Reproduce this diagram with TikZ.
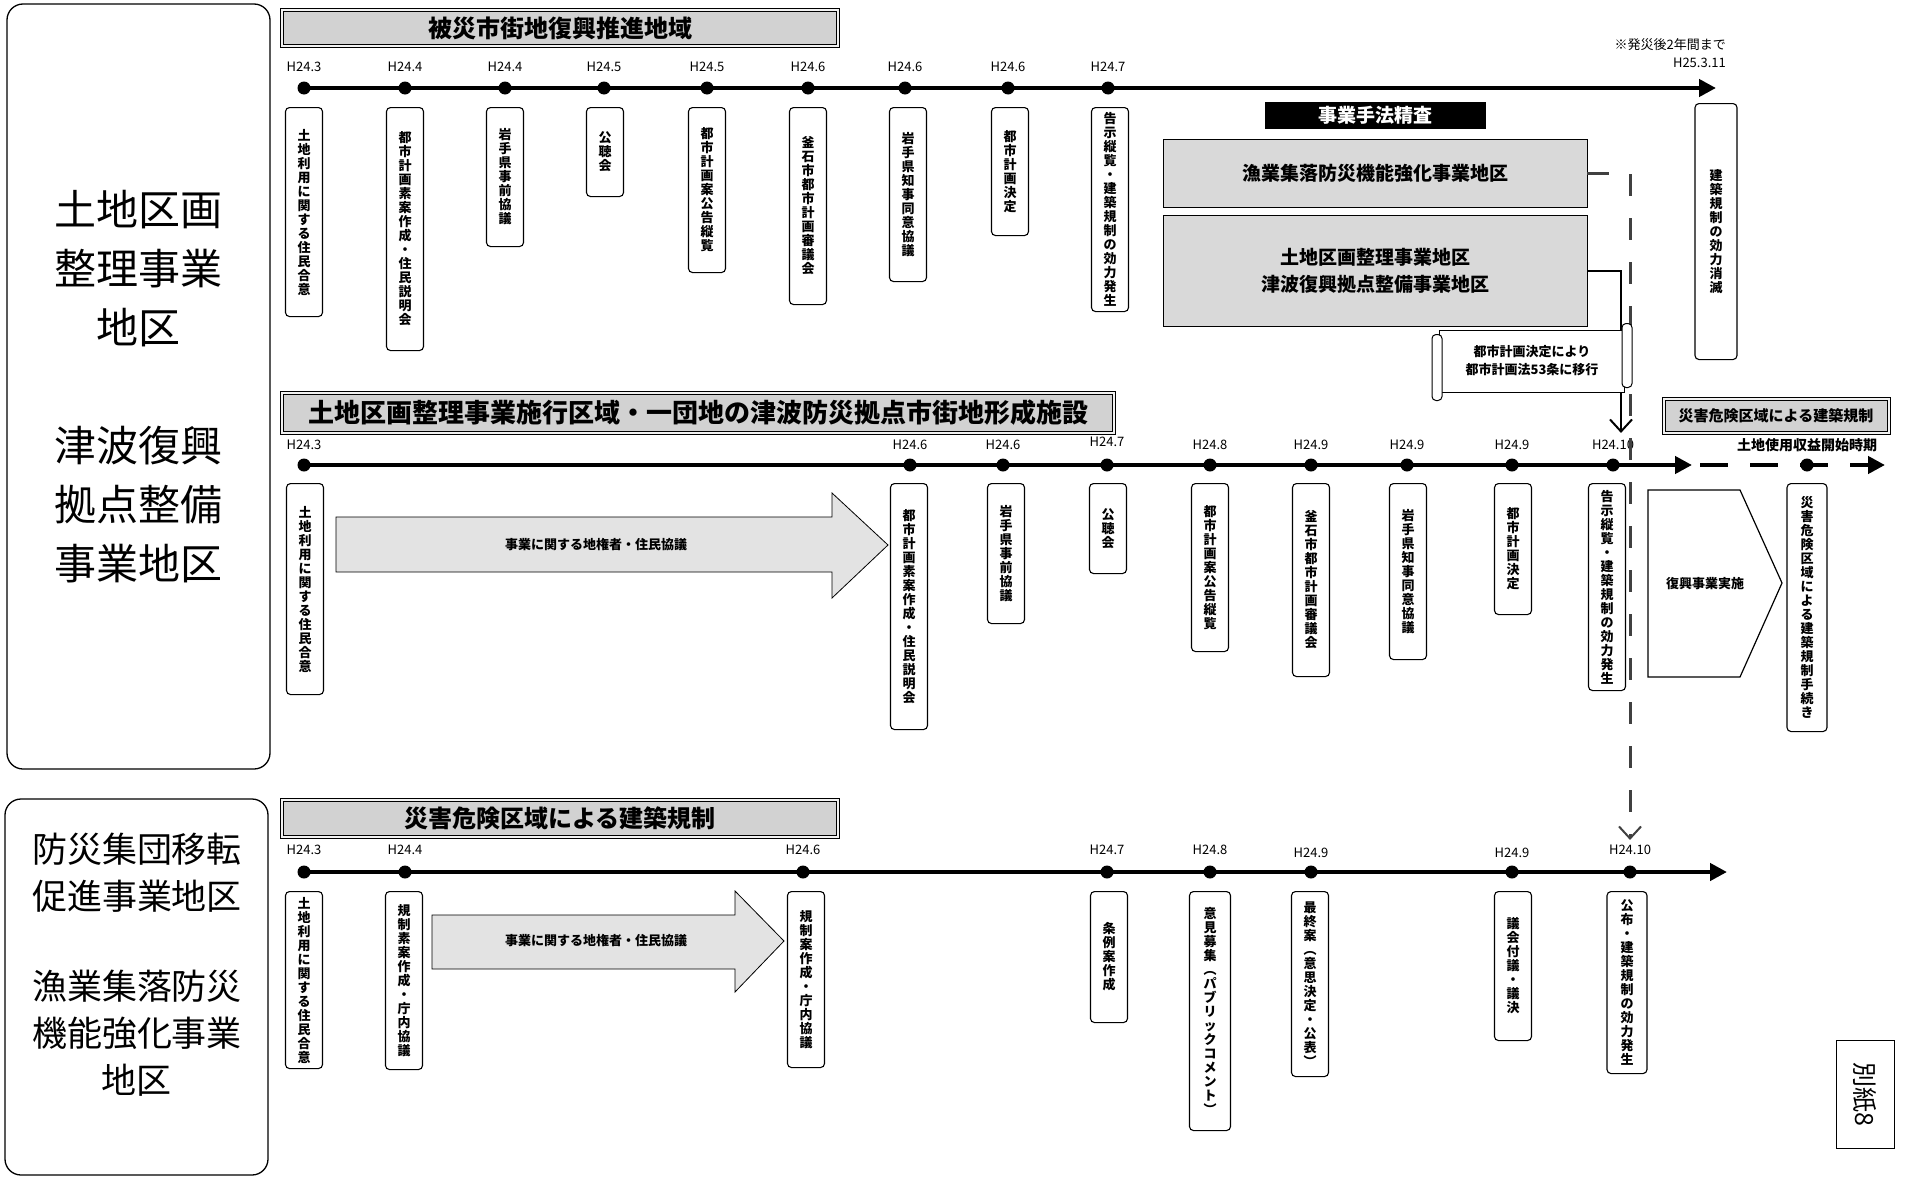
\documentclass[tikz,border=0pt]{standalone}
\usepackage{fontspec}
\setmainfont{Noto Sans CJK JP}
\usetikzlibrary{arrows.meta}

\makeatletter
% stack the characters of a label one under the other
\newcommand\tatebox[1]{\vbox{\baselineskip=14pt\lineskiplimit=-20pt
  \@tfor\tate@c:=#1\do{\hbox to 15pt{\hss\tate@c\hss}}}}
\makeatother

\begin{document}
\begin{tikzpicture}[x=1pt,y=-1pt,
    dot/.style={circle,fill,inner sep=0pt,minimum size=13pt},
    date/.style={font=\fontsize{13}{15}\selectfont,inner sep=1pt},
    tbox/.style={draw,rounded corners=4pt,line width=1.1pt,minimum width=37pt,anchor=north,
      inner sep=0pt,font=\bfseries\fontsize{13}{14}\selectfont},
    banner/.style={draw,line width=1pt,double=gray!10,double distance=2pt,fill=gray!35,inner sep=0pt},
    timeline/.style={line width=4.5pt,-{Triangle[length=17pt,width=17pt]}},
    graybox/.style={draw,line width=0.8pt,fill=gray!30,inner sep=0pt,font=\bfseries\fontsize{19}{27}\selectfont},
    bigarrow/.style={draw,line width=0.8pt,fill=gray!22},
    barb/.style={-{Straight Barb[length=12pt,width=22pt,line width=2pt]}}]
    \useasboundingbox (0,0) rectangle (1907,1178);
    \fill[white] (0,0) rectangle (1907,1178);

    % left panels
    \node[draw,line width=1.3pt,rounded corners=16pt,minimum width=263pt,minimum height=765pt] (AREA1) at (138.5,386.5) {};
    \node[align=center,font=\fontsize{42}{59}\selectfont] (AREA1T) at (AREA1.center)
        {土地区画\\整理事業\\地区\\[59pt]津波復興\\拠点整備\\事業地区};
    \node[draw,line width=1.3pt,rounded corners=16pt,minimum width=263pt,minimum height=376pt] (AREA2) at (136.5,987) {};
    \node[align=center,font=\fontsize{35}{47}\selectfont] (AREA2T) at (137,965)
        {防災集団移転\\促進事業地区\\[43pt]漁業集落防災\\機能強化事業\\地区};

    % upper timeline
    \node[banner,minimum width=556pt,minimum height=36pt,font=\bfseries\fontsize{24}{24}\selectfont] (BAN1) at (560,28) {被災市街地復興推進地域};
    \coordinate (TS) at (304,88);
    \coordinate (TE) at (1716,88);
    \draw[timeline] (TS) -- (TE);
    \node[dot] (T1) at (304,88) {};
    \node[dot] (T2) at (405,88) {};
    \node[dot] (T3) at (505,88) {};
    \node[dot] (T4) at (604,88) {};
    \node[dot] (T5) at (707,88) {};
    \node[dot] (T6) at (808,88) {};
    \node[dot] (T7) at (905,88) {};
    \node[dot] (T8) at (1008,88) {};
    \node[dot] (T9) at (1108,88) {};
    \node[date] (TL1) at (304,67) {H24.3};
    \node[date] (TL2) at (405,67) {H24.4};
    \node[date] (TL3) at (505,67) {H24.4};
    \node[date] (TL4) at (604,67) {H24.5};
    \node[date] (TL5) at (707,67) {H24.5};
    \node[date] (TL6) at (808,67) {H24.6};
    \node[date] (TL7) at (905,67) {H24.6};
    \node[date] (TL8) at (1008,67) {H24.6};
    \node[date] (TL9) at (1108,67) {H24.7};
    \node[date,anchor=east] (NOTE) at (1727,45) {※発災後2年間まで};
    \node[date,anchor=east] (TL10) at (1727,63) {H25.3.11};
    \node[tbox,minimum height=209pt] (TB1) at (304,107) {\tatebox{土地利用に関する住民合意}};
    \node[tbox,minimum height=243pt] (TB2) at (405,107) {\tatebox{都市計画素案作成・住民説明会}};
    \node[tbox,minimum height=139pt] (TB3) at (505,107) {\tatebox{岩手県事前協議}};
    \node[tbox,minimum height=89pt] (TB4) at (605,107) {\tatebox{公聴会}};
    \node[tbox,minimum height=165pt] (TB5) at (707,107) {\tatebox{都市計画案公告縦覧}};
    \node[tbox,minimum height=197pt] (TB6) at (808,107) {\tatebox{釜石市都市計画審議会}};
    \node[tbox,minimum height=174pt] (TB7) at (908,107) {\tatebox{岩手県知事同意協議}};
    \node[tbox,minimum height=128pt] (TB8) at (1010,107) {\tatebox{都市計画決定}};
    \node[tbox,minimum height=204pt] (TB9) at (1110,107) {\tatebox{告示縦覧・建築規制の効力発生}};
    \node[tbox,minimum height=256pt,minimum width=42pt] (TB10) at (1716,103) {\tatebox{建築規制の効力消滅}};
    \node[fill=black,text=white,minimum width=221pt,minimum height=27pt,inner sep=0pt,
        font=\bfseries\fontsize{19}{19}\selectfont] (CHECK) at (1375,115) {事業手法精査};
    \node[graybox,minimum width=424pt,minimum height=68pt] (FISH) at (1375,173) {漁業集落防災機能強化事業地区};
    \node[graybox,minimum width=424pt,minimum height=111pt,align=center] (LAND) at (1375,271)
        {土地区画整理事業地区\\津波復興拠点整備事業地区};

    % middle timeline
    \node[banner,minimum width=832pt,minimum height=40pt,font=\bfseries\fontsize{26}{26}\selectfont] (BAN2) at (698,413)
        {土地区画整理事業施行区域・一団地の津波防災拠点市街地形成施設};
    \node[banner,minimum width=225pt,minimum height=34pt,font=\bfseries\fontsize{15}{15}\selectfont] (BAN3) at (1776,416)
        {災害危険区域による建築規制};
    \coordinate (MS) at (304,465);
    \coordinate (ME) at (1692,465);
    \coordinate (MD) at (1700,465);
    \coordinate (MF) at (1885,465);
    \draw[timeline] (MS) -- (ME);
    \draw[timeline,dash pattern=on 28pt off 22pt] (MD) -- (MF);
    \node[dot] (M1) at (304,465) {};
    \node[dot] (M2) at (910,465) {};
    \node[dot] (M3) at (1003,465) {};
    \node[dot] (M4) at (1107,465) {};
    \node[dot] (M5) at (1210,465) {};
    \node[dot] (M6) at (1311,465) {};
    \node[dot] (M7) at (1407,465) {};
    \node[dot] (M8) at (1512,465) {};
    \node[dot] (M9) at (1613,465) {};
    \node[dot] (M10) at (1807,465) {};
    \node[date] (ML1) at (304,445) {H24.3};
    \node[date] (ML2) at (910,445) {H24.6};
    \node[date] (ML3) at (1003,445) {H24.6};
    \node[date] (ML4) at (1107,442) {H24.7};
    \node[date] (ML5) at (1210,445) {H24.8};
    \node[date] (ML6) at (1311,445) {H24.9};
    \node[date] (ML7) at (1407,445) {H24.9};
    \node[date] (ML8) at (1512,445) {H24.9};
    \node[date] (ML9) at (1613,445) {H24.10};
    \node[date,font=\bfseries\fontsize{14}{14}\selectfont] (ML10) at (1807,445) {土地使用収益開始時期};
    \node[tbox,minimum height=211pt] (MB1) at (305,483) {\tatebox{土地利用に関する住民合意}};
    \node[tbox,minimum height=246pt] (MB2) at (909,483) {\tatebox{都市計画素案作成・住民説明会}};
    \node[tbox,minimum height=140pt] (MB3) at (1006,483) {\tatebox{岩手県事前協議}};
    \node[tbox,minimum height=90pt] (MB4) at (1108,483) {\tatebox{公聴会}};
    \node[tbox,minimum height=168pt] (MB5) at (1210,483) {\tatebox{都市計画案公告縦覧}};
    \node[tbox,minimum height=193pt] (MB6) at (1311,483) {\tatebox{釜石市都市計画審議会}};
    \node[tbox,minimum height=176pt] (MB7) at (1408,483) {\tatebox{岩手県知事同意協議}};
    \node[tbox,minimum height=131pt] (MB8) at (1513,483) {\tatebox{都市計画決定}};
    \node[tbox,minimum height=207pt] (MB9) at (1607,483) {\tatebox{告示縦覧・建築規制の効力発生}};
    \node[tbox,minimum height=248pt,minimum width=40pt] (MB10) at (1807,483) {\tatebox{災害危険区域による建築規制手続き}};
    \draw[bigarrow] (336,517) -- (832,517) -- (832,493) -- (888,545) -- (832,598) -- (832,572) -- (336,572) -- cycle;
    \node[font=\bfseries\fontsize{13}{13}\selectfont] (TALK1) at (596,545) {事業に関する地権者・住民協議};
    \draw[line width=1.2pt,fill=white] (1648,490) -- (1740,490) -- (1782,583) -- (1740,677) -- (1648,677) -- cycle;
    \node[font=\bfseries\fontsize{13}{13}\selectfont] (WORK) at (1705,584) {復興事業実施};

    % lower timeline
    \node[banner,minimum width=556pt,minimum height=37pt,font=\bfseries\fontsize{24}{24}\selectfont] (BAN4) at (560,818)
        {災害危険区域による建築規制};
    \coordinate (RS) at (304,872);
    \coordinate (RE) at (1727,872);
    \draw[timeline] (RS) -- (RE);
    \node[dot] (R1) at (304,872) {};
    \node[dot] (R2) at (405,872) {};
    \node[dot] (R3) at (803,872) {};
    \node[dot] (R4) at (1107,872) {};
    \node[dot] (R5) at (1210,872) {};
    \node[dot] (R6) at (1311,872) {};
    \node[dot] (R7) at (1512,872) {};
    \node[dot] (R8) at (1630,872) {};
    \node[date] (RL1) at (304,850) {H24.3};
    \node[date] (RL2) at (405,850) {H24.4};
    \node[date] (RL3) at (803,850) {H24.6};
    \node[date] (RL4) at (1107,850) {H24.7};
    \node[date] (RL5) at (1210,850) {H24.8};
    \node[date] (RL6) at (1311,853) {H24.9};
    \node[date] (RL7) at (1512,853) {H24.9};
    \node[date] (RL8) at (1630,850) {H24.10};
    \node[tbox,minimum height=177pt] (RB1) at (304,891) {\tatebox{土地利用に関する住民合意}};
    \node[tbox,minimum height=178pt] (RB2) at (404,891) {\tatebox{規制素案作成・庁内協議}};
    \node[tbox,minimum height=176pt] (RB3) at (806,891) {\tatebox{規制案作成・庁内協議}};
    \node[tbox,minimum height=131pt] (RB4) at (1109,891) {\tatebox{条例案作成}};
    \node[tbox,minimum height=239pt,minimum width=41pt] (RB5) at (1210,891) {\tatebox{意見募集︵パブリックコメント︶}};
    \node[tbox,minimum height=185pt] (RB6) at (1310,891) {\tatebox{最終案︵意思決定・公表︶}};
    \node[tbox,minimum height=149pt] (RB7) at (1513,891) {\tatebox{議会付議・議決}};
    \node[tbox,minimum height=182pt,minimum width=40pt] (RB8) at (1627,891) {\tatebox{公布・建築規制の効力発生}};
    \draw[bigarrow] (432,915) -- (735,915) -- (735,891) -- (784,941) -- (735,992) -- (735,969) -- (432,969) -- cycle;
    \node[font=\bfseries\fontsize{13}{13}\selectfont] (TALK2) at (596,941) {事業に関する地権者・住民協議};
    \node[draw,line width=1pt,rotate=-90,minimum width=108pt,minimum height=58pt,
        font=\fontsize{25}{25}\selectfont] (ANNEX) at (1865,1094) {別紙8};

    % links between the areas
    \draw[line width=3pt,black!75,dash pattern=on 22pt off 22pt,barb] (FISH.east) -| ([yshift=4pt]RL8.north);
    \draw[line width=2pt,barb] (LAND.east) -| ([xshift=8pt,yshift=6pt]ML9.north);
    \node[draw,fill=white,line width=1pt,minimum width=185pt,minimum height=62pt,align=center,
        font=\bfseries\fontsize{13}{18}\selectfont] (SCROLL) at (1532,361) {都市計画決定により\\都市計画法53条に移行};
    \draw[line width=1pt,fill=white,rounded corners=4pt]
        ([xshift=-7pt,yshift=-5pt]SCROLL.north west) rectangle ([xshift=3pt,yshift=-8pt]SCROLL.south west);
    \draw[line width=1pt,fill=white,rounded corners=4pt]
        ([xshift=-3pt,yshift=6pt]SCROLL.north east) rectangle ([xshift=7pt,yshift=5pt]SCROLL.south east);
\end{tikzpicture}
\end{document}
